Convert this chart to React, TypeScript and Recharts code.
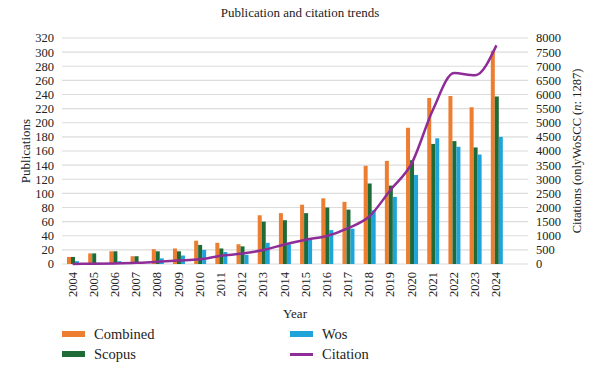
import React from 'react';
import { ComposedChart, Bar, Line, XAxis, YAxis, CartesianGrid } from 'recharts';

const years = ['2004', '2005', '2006', '2007', '2008', '2009', '2010', '2011', '2012', '2013', '2014', '2015', '2016', '2017', '2018', '2019', '2020', '2021', '2022', '2023', '2024'];
const combined = [10, 15, 18, 11, 21, 22, 33, 30, 28, 69, 72, 84, 93, 88, 139, 146, 193, 235, 238, 222, 302];
const scopus = [10, 15, 18, 11, 18, 18, 27, 22, 25, 60, 62, 72, 80, 77, 114, 111, 147, 170, 174, 165, 237];
const wos = [4, 2, 4, 2, 8, 12, 20, 17, 13, 30, 28, 36, 48, 50, 76, 95, 126, 178, 166, 155, 180];
const citations = [0, 10, 20, 40, 80, 120, 165, 290, 370, 495, 690, 860, 990, 1270, 1680, 2620, 3560, 5450, 6760, 6680, 7740];

const pubTicks = [0, 20, 40, 60, 80, 100, 120, 140, 160, 180, 200, 220, 240, 260, 280, 300, 320];
const citeTicks = [0, 500, 1000, 1500, 2000, 2500, 3000, 3500, 4000, 4500, 5000, 5500, 6000, 6500, 7000, 7500, 8000];

const data = years.map((year, i) => ({
  year,
  combined: combined[i],
  scopus: scopus[i],
  wos: wos[i],
  citation: citations[i],
}));

const COLORS = {
  combined: '#ED7D31',
  scopus: '#1E6B38',
  wos: '#1FA3DB',
  citation: '#8E2D98',
};

const FONT = '"Liberation Serif", "DejaVu Serif", serif';
const TEXT = '#222';

const YearTick = ({ x, y, payload }: any) => (
  <text
    x={x}
    y={y}
    transform={`rotate(-90, ${x}, ${y})`}
    textAnchor="end"
    dominantBaseline="central"
    fontSize={12.5}
    fill={TEXT}
  >
    {payload.value}
  </text>
);

const RightTitle = ({ viewBox }: any) => {
  const cx = viewBox.x + 49;
  const cy = viewBox.y + viewBox.height / 2;
  return (
    <text
      x={cx}
      y={cy}
      transform={`rotate(-90, ${cx}, ${cy})`}
      textAnchor="middle"
      dominantBaseline="central"
      fontSize={12.5}
      fill={TEXT}
    >
      Citations (onlyWoSCC (<tspan fontStyle="italic">n</tspan>: 1287)
    </text>
  );
};

const legendItems = [
  { key: 'combined', label: 'Combined', kind: 'bar' },
  { key: 'wos', label: 'Wos', kind: 'bar' },
  { key: 'scopus', label: 'Scopus', kind: 'bar' },
  { key: 'citation', label: 'Citation', kind: 'line' },
] as const;

export default function App() {
  return (
    <div style={{ position: 'absolute', left: 0, top: 0, width: 600, height: 381, background: '#fff', fontFamily: FONT, color: TEXT }}>
      <style>{`.pub-chart text, .pub-chart tspan { font-family: ${FONT}; }`}</style>
      <div style={{ position: 'absolute', top: 5, left: 0, width: 600, textAlign: 'center', fontSize: 13 }}>
        Publication and citation trends
      </div>
      <ComposedChart
        className="pub-chart"
        width={600}
        height={381}
        data={data}
        margin={{ top: 38, right: 0, bottom: 57, left: 0 }}
        barSize={4}
        barGap={0}
      >
        <CartesianGrid vertical={false} stroke="#dcdcdc" strokeWidth={1.2} yAxisId="left" />
        <XAxis
          dataKey="year"
          interval={0}
          axisLine={false}
          tickLine={false}
          height={60}
          padding={{ left: 0, right: 21 }}
          tick={<YearTick />}
          label={{ value: 'Year', position: 'insideBottom', offset: 6, fontSize: 13, fill: TEXT }}
        />
        <YAxis
          yAxisId="left"
          orientation="left"
          width={62}
          domain={[0, 320]}
          ticks={pubTicks}
          interval={0}
          axisLine={false}
          tickLine={false}
          tick={{ fontSize: 12.5, fill: TEXT }}
          label={{ value: 'Publications', angle: -90, position: 'center', dx: -6, fontSize: 13, fill: TEXT }}
        />
        <YAxis
          yAxisId="right"
          orientation="right"
          width={72}
          domain={[0, 8000]}
          ticks={citeTicks}
          interval={0}
          axisLine={false}
          tickLine={false}
          tick={{ fontSize: 12.5, fill: TEXT, textAnchor: 'start' }}
          label={<RightTitle />}
        />
        <Bar yAxisId="left" dataKey="combined" fill={COLORS.combined} isAnimationActive={false} />
        <Bar yAxisId="left" dataKey="scopus" fill={COLORS.scopus} isAnimationActive={false} />
        <Bar yAxisId="left" dataKey="wos" fill={COLORS.wos} isAnimationActive={false} />
        <Line
          yAxisId="right"
          dataKey="citation"
          type="monotone"
          stroke={COLORS.citation}
          strokeWidth={2.5}
          dot={false}
          activeDot={false}
          isAnimationActive={false}
        />
      </ComposedChart>
      <div
        style={{
          position: 'absolute',
          left: 62,
          top: 325,
          display: 'grid',
          gridTemplateColumns: '228px 200px',
          rowGap: 2,
          fontSize: 14.5,
          fontFamily: FONT,
        }}
      >
        {legendItems.map((item) => (
          <div key={item.key} style={{ display: 'flex', alignItems: 'center', height: 18 }}>
            <span
              style={{
                display: 'inline-block',
                width: 23,
                height: item.kind === 'bar' ? 6 : 3,
                background: COLORS[item.key],
                marginRight: 9,
              }}
            />
            {item.label}
          </div>
        ))}
      </div>
    </div>
  );
}
